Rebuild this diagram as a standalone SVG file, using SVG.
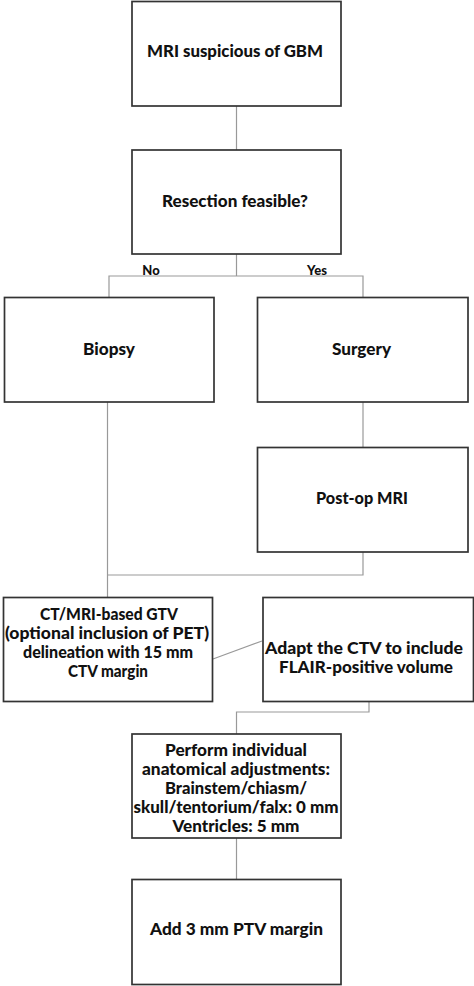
<svg xmlns="http://www.w3.org/2000/svg" width="474" height="986" viewBox="0 0 474 986">
<style>
.box{fill:#fff;stroke:#333;stroke-width:1.7}
.con{fill:none;stroke:#999;stroke-width:1.2}
text{font-family:Lato,"Liberation Sans",sans-serif;font-weight:900;fill:#111;text-anchor:middle;font-size:17px}
.sm{font-size:13px}
.ml{font-size:16.5px}
</style>
<rect width="474" height="986" fill="#fff"/>
<g id="connectors">
<path class="con" d="M236.5 106V150"/>
<path class="con" d="M236.5 254V276M109 297V276H363V297"/>
<path class="con" d="M363 402V447"/>
<path class="con" d="M107.5 402V597M363 552V575H107.5"/>
<path class="con" d="M213 659L262 641"/>
<path class="con" d="M369 701V712H236.5V734"/>
<path class="con" d="M236.5 838V880"/>
</g>
<g id="n1"><rect class="box" x="132" y="1.5" width="209" height="104.5"/><text x="235" y="57" textLength="176" lengthAdjust="spacingAndGlyphs">MRI suspicious of GBM</text></g>
<g id="n2"><rect class="box" x="132" y="150" width="209" height="104"/><text x="235" y="207" textLength="146" lengthAdjust="spacingAndGlyphs">Resection feasible?</text></g>
<g id="lblNo"><text class="sm" x="151" y="275">No</text></g>
<g id="lblYes"><text class="sm" x="317" y="275">Yes</text></g>
<g id="n3"><rect class="box" x="4.5" y="297.5" width="209.5" height="104.5"/><text x="109" y="355" textLength="52" lengthAdjust="spacingAndGlyphs">Biopsy</text></g>
<g id="n4"><rect class="box" x="257.5" y="297.5" width="210.5" height="104.5"/><text x="361.5" y="355" textLength="59" lengthAdjust="spacingAndGlyphs">Surgery</text></g>
<g id="n5"><rect class="box" x="257.5" y="447.5" width="210.5" height="104.5"/><text x="362" y="504" textLength="92" lengthAdjust="spacingAndGlyphs">Post-op MRI</text></g>
<g id="n6"><rect class="box" x="3.5" y="597.5" width="209" height="104"/>
<text class="ml" x="109" y="620" textLength="138" lengthAdjust="spacingAndGlyphs">CT/MRI-based GTV</text>
<text class="ml" x="107" y="639" textLength="204" lengthAdjust="spacingAndGlyphs">(optional inclusion of PET)</text>
<text class="ml" x="108" y="658" textLength="170" lengthAdjust="spacingAndGlyphs">delineation with 15 mm</text>
<text class="ml" x="108" y="677" textLength="80" lengthAdjust="spacingAndGlyphs">CTV margin</text></g>
<g id="n7"><rect class="box" x="263" y="597.5" width="210.5" height="104"/>
<text class="ml" x="364" y="654" textLength="198" lengthAdjust="spacingAndGlyphs">Adapt the CTV to include</text>
<text class="ml" x="366" y="673" textLength="174" lengthAdjust="spacingAndGlyphs">FLAIR-positive volume</text></g>
<g id="n8"><rect class="box" x="132" y="734" width="209" height="104"/>
<text class="ml" x="236" y="755.5" textLength="142" lengthAdjust="spacingAndGlyphs">Perform individual</text>
<text class="ml" x="236" y="774.5" textLength="188" lengthAdjust="spacingAndGlyphs">anatomical adjustments:</text>
<text class="ml" x="236" y="793.5" textLength="142" lengthAdjust="spacingAndGlyphs">Brainstem/chiasm/</text>
<text class="ml" x="236" y="812.5" textLength="205" lengthAdjust="spacingAndGlyphs">skull/tentorium/falx: 0 mm</text>
<text class="ml" x="236" y="831.5" textLength="127" lengthAdjust="spacingAndGlyphs">Ventricles: 5 mm</text></g>
<g id="n9"><rect class="box" x="132" y="879.5" width="209" height="105"/><text x="236.5" y="935" textLength="173" lengthAdjust="spacingAndGlyphs">Add 3 mm PTV margin</text></g>
</svg>
